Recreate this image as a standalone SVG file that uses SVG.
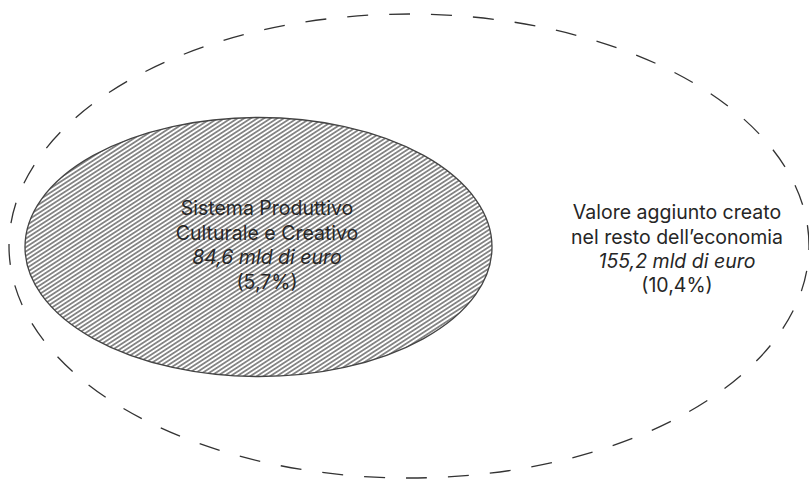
<svg xmlns="http://www.w3.org/2000/svg" width="809" height="480" viewBox="0 0 809 480">
  <style>
    .label { font-family: Inter, "Liberation Sans", sans-serif; font-size: 19.5px; fill: #262626; text-anchor: middle; }
    .em { font-style: italic; }
    .outer { fill: none; stroke: #333; stroke-width: 1.3; stroke-dasharray: 21 21; stroke-dashoffset: 17; }
    .inner { fill: url(#hatch); stroke: #444; stroke-width: 1.3; }
  </style>
  <defs>
    <!-- fine diagonal hatching for the inner set -->
    <pattern id="hatch" patternUnits="userSpaceOnUse" width="10" height="3.6" patternTransform="rotate(-33)">
      <rect width="10" height="3.6" fill="#fff"/>
      <line x1="0" y1="1.8" x2="10" y2="1.8" stroke="#555" stroke-width="1.3"/>
    </pattern>
  </defs>
  <rect width="809" height="480" fill="#fff"/>

  <g id="economia">
    <ellipse class="outer" cx="409" cy="246" rx="400" ry="232"/>
    <text class="label" x="677" y="219">Valore aggiunto creato</text>
    <text class="label" x="677" y="244">nel resto dell’economia</text>
    <text class="label em" x="677" y="268">155,2 mld di euro</text>
    <text class="label" x="677" y="292">(10,4%)</text>
  </g>

  <g id="sistema-produttivo">
    <ellipse class="inner" cx="258.5" cy="247" rx="233.5" ry="129.5"/>
    <text class="label" x="267" y="215">Sistema Produttivo</text>
    <text class="label" x="267" y="240">Culturale e Creativo</text>
    <text class="label em" x="267" y="264">84,6 mld di euro</text>
    <text class="label" x="267" y="289">(5,7%)</text>
  </g>
</svg>
